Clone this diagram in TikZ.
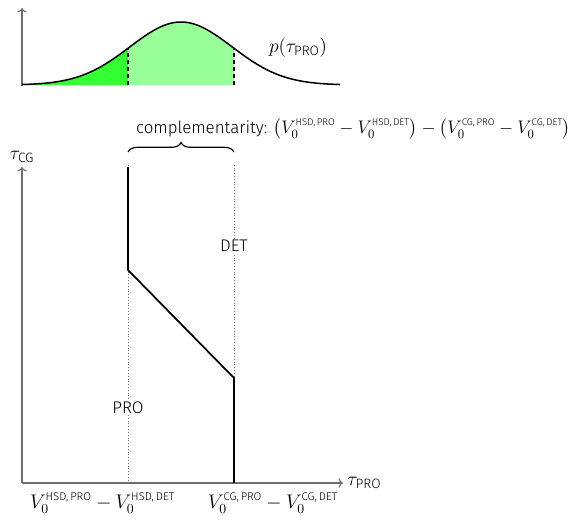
\RequirePackage{fix-cm}
\documentclass[tikz,border=0pt]{standalone}
\usepackage{amsmath}
\usepackage{fontspec}
\setmainfont{Fira Sans}[UprightFont={* Light}]
\usepackage{tikz}
\usetikzlibrary{arrows.meta,decorations.pathreplacing}
\definecolor{eksenGri}{HTML}{6E6E6E}
\definecolor{parlakYesil}{HTML}{33FF33}
\definecolor{acikYesil}{HTML}{99FF99}
\newcommand{\ust}[1]{\text{\fontsize{9.6}{10}\selectfont #1}}
\newcommand{\kust}[1]{\text{\fontsize{8.3}{9}\selectfont #1}}
\tikzset{buyuk/.style={font=\fontsize{16.5}{19}\selectfont}}

\begin{document}
\begin{tikzpicture}[x=0.03cm,y=-0.03cm,font=\fontsize{14.4}{17}\selectfont]
\useasboundingbox (0,0) rectangle (579,522);
% ust: yogunluk egrisi
\fill[parlakYesil] (22,85) -- plot[domain=22:128,samples=40] (\x,{85-63*exp(-0.5*((\x-181)/51)^2)}) -- (128,85) -- cycle;
\fill[acikYesil] (128,85) -- plot[domain=128:234,samples=40] (\x,{85-63*exp(-0.5*((\x-181)/51)^2)}) -- (234,85) -- cycle;
\draw[eksenGri,line width=1pt,->] (22,86)--(22,8);
\draw[line width=1.3pt,domain=22:340,samples=100] plot (\x,{85-63*exp(-0.5*((\x-181)/51)^2)});
\draw[line width=1pt,dashed] (128,85)--(128,{85-63*exp(-0.5*((128-181)/51)^2)});
\draw[line width=1pt,dashed] (234,85)--(234,{85-63*exp(-0.5*((234-181)/51)^2)});
\node[buyuk] (dagilim) at (298,48) {$p(\tau_{\text{PRO}})$};
% alt: eksenler
\coordinate (O) at (22,483);
\draw[eksenGri,line width=1pt,->] (O)--(343,483) node[right,black,buyuk] (xlbl) {$\tau_{\text{PRO}}$};
\draw[eksenGri,line width=1pt,->] (O)--(22,167) node[above,black,buyuk] (ylbl) {$\tau_{\text{CG}}$};
\draw[dotted,eksenGri] (128,483)--(128,165);
\draw[dotted,eksenGri] (234,483)--(234,165);
\draw[line width=1.5pt] (128,167)--(128,270)--(234,378)--(234,483);
\node[fill=white,inner sep=1pt] (det) at (234,246) {DET};
\node[fill=white,inner sep=1pt] (pro) at (128,408) {PRO};
\draw[line width=1pt,decorate,decoration={brace,amplitude=8pt}] (128,152)--(234,152);
\node[anchor=west] (tamam) at (132,129) {complementarity: {\fontsize{15.5}{18}\selectfont$\bigl(V_0^{\kust{HSD,\,PRO}}-V_0^{\kust{HSD,\,DET}}\bigr)-\bigl(V_0^{\kust{CG,\,PRO}}-V_0^{\kust{CG,\,DET}}\bigr)$}};
\node[anchor=west,font=\fontsize{16.8}{19}\selectfont] (esik1) at (26,503) {$V_0^{\ust{HSD,\,PRO}}-V_0^{\ust{HSD,\,DET}}$};
\node[anchor=west,font=\fontsize{16.8}{19}\selectfont] (esik2) at (204,503) {$V_0^{\ust{CG,\,PRO}}-V_0^{\ust{CG,\,DET}}$};
\end{tikzpicture}
\end{document}
